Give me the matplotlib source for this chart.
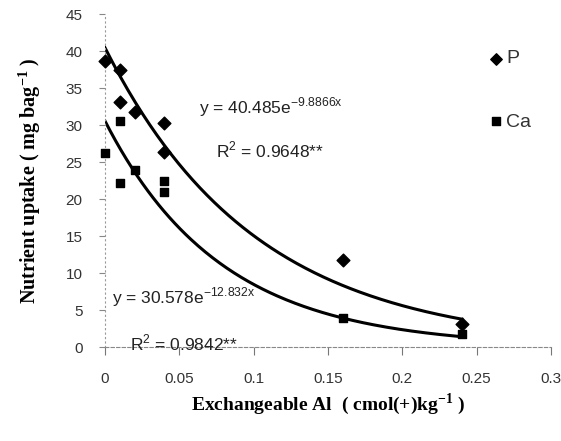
import numpy as np
import matplotlib.pyplot as plt

# data
al_p = [0.0, 0.01, 0.01, 0.02, 0.04, 0.04, 0.16, 0.24]
p_uptake = [38.6, 37.4, 33.1, 31.8, 30.3, 26.4, 11.8, 3.1]
al_ca = [0.0, 0.01, 0.01, 0.02, 0.04, 0.04, 0.16, 0.24]
ca_uptake = [26.2, 30.5, 22.2, 23.9, 22.4, 20.9, 3.9, 1.7]

# fitted exponentials (as printed on the chart)
p_a, p_b = 40.485, -9.8866
ca_a, ca_b = 30.578, -12.832

xticks = [0, 0.05, 0.1, 0.15, 0.2, 0.25, 0.3]
xticklabels = ["0", "0.05", "0.1", "0.15", "0.2", "0.25", "0.3"]
yticks = [0, 5, 10, 15, 20, 25, 30, 35, 40, 45]

fig = plt.figure(figsize=(5.61, 4.41), dpi=100)
ax = fig.add_axes([0.187, 0.213, 0.795, 0.755])

xs = np.linspace(0, 0.24, 200)
ax.plot(xs, p_a * np.exp(p_b * xs), color="black", lw=2.2)
ax.plot(xs, ca_a * np.exp(ca_b * xs), color="black", lw=2.2)

ax.scatter(al_p, p_uptake, marker="D", s=42, color="black", zorder=3, clip_on=False)
ax.scatter(al_ca, ca_uptake, marker="s", s=38, color="black", zorder=3, clip_on=False)

ax.set_xlim(0, 0.3)
ax.set_ylim(0, 45)
ax.set_xticks(xticks)
ax.set_xticklabels(xticklabels)
ax.set_yticks(yticks)
for lab in ax.get_xticklabels() + ax.get_yticklabels():
    lab.set_fontfamily("Liberation Sans")
    lab.set_fontsize(11)
    lab.set_color("#333333")
ax.tick_params(axis="y", direction="out", length=4, color="#888888", pad=12)
ax.tick_params(axis="x", direction="out", length=6, color="#777777", pad=12)

ax.spines["top"].set_visible(False)
ax.spines["right"].set_visible(False)
ax.spines["left"].set_linestyle((0, (1, 3)))
ax.spines["left"].set_color("#999999")
ax.spines["bottom"].set_linestyle((0, (3, 2)))
ax.spines["bottom"].set_color("#888888")

ax.set_xlabel(r"Exchangeable Al  ( cmol(+)kg$^{\mathregular{-1}}$ )", fontfamily="Liberation Serif",
              fontweight="bold", fontsize=14, labelpad=4)
ax.set_ylabel(r"Nutrient uptake ( mg bag$^{\mathregular{-1}}$ )", fontfamily="Liberation Serif",
              fontweight="bold", fontsize=14.5, labelpad=16)

tf = dict(fontfamily="Liberation Sans", fontsize=12.5, color="#222222", va="center")
ax.text(0.063, 32.4, r"y = 40.485e$^{\mathregular{-9.8866x}}$", **tf)
ax.text(0.075, 26.6, r"R$^{\mathregular{2}}$ = 0.9648**", **tf)
ax.text(0.005, 6.8, r"y = 30.578e$^{\mathregular{-12.832x}}$", **tf)
ax.text(0.017, 0.6, r"R$^{\mathregular{2}}$ = 0.9842**", **tf)

# legend drawn as in the original (markers + labels on the right)
ax.scatter([0.263], [39.0], marker="D", s=34, color="black", clip_on=False)
ax.text(0.27, 39.0, "P", va="center", fontfamily="Liberation Sans", fontsize=14, color="#333333")
ax.scatter([0.263], [30.6], marker="s", s=34, color="black", clip_on=False)
ax.text(0.27, 30.3, "Ca", va="center", fontfamily="Liberation Sans", fontsize=14, color="#333333")

plt.savefig("out.png", dpi=100)
